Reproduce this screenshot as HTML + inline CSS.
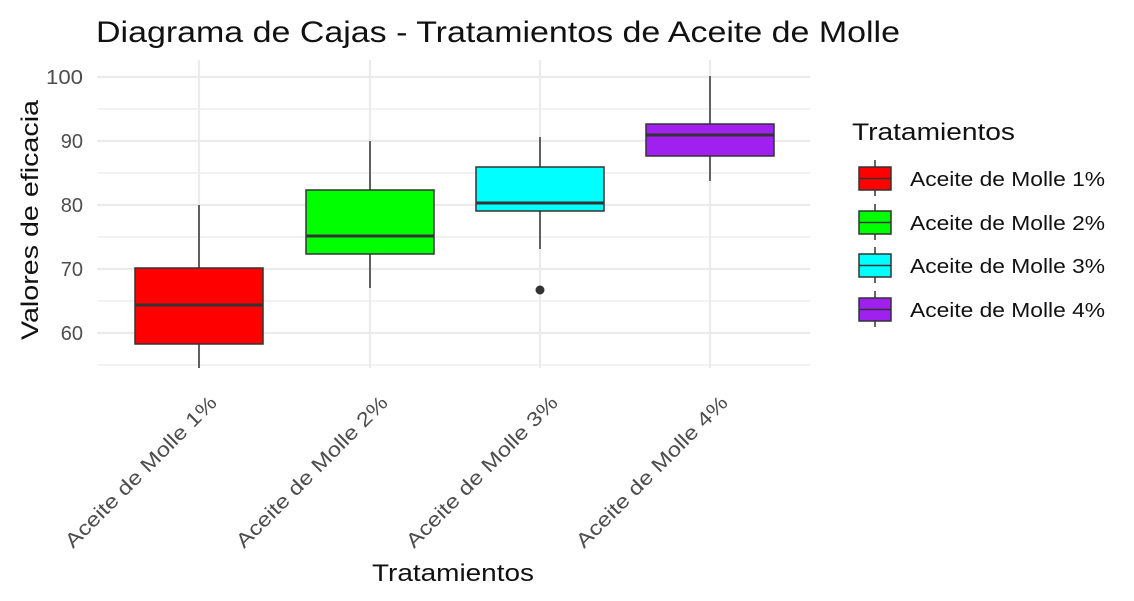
<!DOCTYPE html>
<html><head><meta charset="utf-8"><style>body{margin:0;background:#fff}svg{display:block;font-family:"Liberation Sans",Arial,sans-serif}</style></head>
<body>
<svg width="1134" height="601" viewBox="0 0 1134 601">
<rect width="1134" height="601" fill="#fff"/>
<text x="96" y="42" font-size="30" fill="#111" textLength="804" lengthAdjust="spacingAndGlyphs">Diagrama de Cajas - Tratamientos de Aceite de Molle</text>
<g stroke="#ebebeb" stroke-width="1.2">
<line x1="97" x2="810" y1="109" y2="109"/><line x1="97" x2="810" y1="173" y2="173"/><line x1="97" x2="810" y1="237" y2="237"/><line x1="97" x2="810" y1="301" y2="301"/><line x1="97" x2="810" y1="365" y2="365"/>
</g>
<g stroke="#ebebeb" stroke-width="2.2">
<line x1="97" x2="810" y1="77" y2="77"/><line x1="97" x2="810" y1="141" y2="141"/><line x1="97" x2="810" y1="205" y2="205"/><line x1="97" x2="810" y1="269" y2="269"/><line x1="97" x2="810" y1="333" y2="333"/>
<line x1="199" x2="199" y1="60" y2="368"/><line x1="370" x2="370" y1="60" y2="368"/><line x1="540" x2="540" y1="60" y2="368"/><line x1="710" x2="710" y1="60" y2="368"/>
</g>
<g font-size="20" fill="#4d4d4d" text-anchor="end">
<text x="83" y="84" textLength="37" lengthAdjust="spacingAndGlyphs">100</text><text x="83" y="148">90</text><text x="83" y="212">80</text><text x="83" y="276">70</text><text x="83" y="340">60</text>
</g>
<g stroke="#333" stroke-width="1.5">
<line x1="199" x2="199" y1="205" y2="368"/>
<rect x="135" y="268" width="128" height="76" fill="#ff0000"/>
<line x1="135" x2="263" y1="305" y2="305" stroke-width="3"/>
<line x1="370" x2="370" y1="141" y2="288"/>
<rect x="306" y="190" width="128" height="64" fill="#00ff00"/>
<line x1="306" x2="434" y1="236" y2="236" stroke-width="3"/>
<line x1="540" x2="540" y1="137" y2="249"/>
<rect x="476" y="167" width="128" height="44" fill="#00ffff"/>
<line x1="476" x2="604" y1="203" y2="203" stroke-width="3"/>
<line x1="710" x2="710" y1="76" y2="181"/>
<rect x="646" y="124" width="128" height="32" fill="#a020f0"/>
<line x1="646" x2="774" y1="135" y2="135" stroke-width="3"/>
</g>
<circle cx="540" cy="290" r="4.5" fill="#333"/>
<g font-size="20" fill="#4d4d4d" text-anchor="end">
<text transform="translate(218,404) rotate(-45)" textLength="205" lengthAdjust="spacingAndGlyphs">Aceite de Molle 1%</text>
<text transform="translate(389,404) rotate(-45)" textLength="205" lengthAdjust="spacingAndGlyphs">Aceite de Molle 2%</text>
<text transform="translate(559,404) rotate(-45)" textLength="205" lengthAdjust="spacingAndGlyphs">Aceite de Molle 3%</text>
<text transform="translate(729,404) rotate(-45)" textLength="205" lengthAdjust="spacingAndGlyphs">Aceite de Molle 4%</text>
</g>
<text x="372" y="581" font-size="24" fill="#111" textLength="162" lengthAdjust="spacingAndGlyphs">Tratamientos</text>
<text transform="translate(38,340) rotate(-90)" font-size="24" fill="#111" textLength="240" lengthAdjust="spacingAndGlyphs">Valores de eficacia</text>
<text x="852" y="140" font-size="24" fill="#111" textLength="163" lengthAdjust="spacingAndGlyphs">Tratamientos</text>
<g stroke="#333" stroke-width="1.5">
<line x1="875" x2="875" y1="160" y2="196"/><rect x="859" y="167" width="32" height="23" fill="#ff0000"/><line x1="859" x2="891" y1="178.5" y2="178.5"/>
<line x1="875" x2="875" y1="204" y2="240"/><rect x="859" y="211" width="32" height="23" fill="#00ff00"/><line x1="859" x2="891" y1="222.5" y2="222.5"/>
<line x1="875" x2="875" y1="247" y2="283"/><rect x="859" y="254" width="32" height="23" fill="#00ffff"/><line x1="859" x2="891" y1="265.5" y2="265.5"/>
<line x1="875" x2="875" y1="291" y2="327"/><rect x="859" y="298" width="32" height="23" fill="#a020f0"/><line x1="859" x2="891" y1="309.5" y2="309.5"/>
</g>
<g font-size="20" fill="#111">
<text x="910" y="186" textLength="195" lengthAdjust="spacingAndGlyphs">Aceite de Molle 1%</text><text x="910" y="230" textLength="195" lengthAdjust="spacingAndGlyphs">Aceite de Molle 2%</text><text x="910" y="273" textLength="195" lengthAdjust="spacingAndGlyphs">Aceite de Molle 3%</text><text x="910" y="317" textLength="195" lengthAdjust="spacingAndGlyphs">Aceite de Molle 4%</text>
</g>
</svg>
</body></html>
